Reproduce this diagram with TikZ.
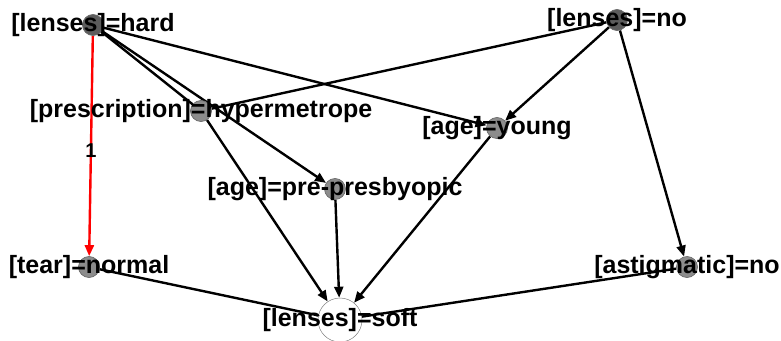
\documentclass[tikz,border=0pt]{standalone}
\usepackage{fontspec}
\setmainfont{Liberation Sans}
\usetikzlibrary{arrows.meta}
\pgfdeclarelayer{bg}
\pgfsetlayers{bg,main}
\definecolor{vlight}{HTML}{8C8C8C}
\definecolor{vdark}{HTML}{5C5C5C}
\definecolor{vline}{HTML}{6A6A6A}
\definecolor{redge}{HTML}{FF0000}
\tikzset{
  vtx/.style={circle, draw=vline, line width=0.7pt, fill=vlight, minimum size=21pt, inner sep=0pt},
  vtxdark/.style={vtx, fill=vdark},
  vtxsoft/.style={circle, draw=gray, line width=0.5pt, fill=white, minimum size=44pt, inner sep=0pt},
  lbl/.style={font=\bfseries\fontsize{25}{25}\selectfont, inner sep=0pt, text=black},
  link/.style={line width=2.4pt, draw=black},
  edge/.style={link, -{Triangle[length=11pt,width=9pt]}},
  redline/.style={edge, draw=redge, fill=redge},
  elbl/.style={font=\bfseries\fontsize{20}{20}\selectfont, inner sep=0pt, text=black}
}
\begin{document}
\begin{tikzpicture}[x=1pt,y=-1pt]
\useasboundingbox (0,0) rectangle (781,340);
% vertices
\node[vtxdark] (hard) at (93,25) {};
\node[vtxdark] (no) at (617,20) {};
\node[vtx] (presc) at (201,111) {};
\node[vtx] (young) at (497,128) {};
\node[vtx] (pre) at (335,189) {};
\node[vtx] (tear) at (89,267) {};
\node[vtx] (astig) at (687,267) {};
\node[vtxsoft] (soft) at (340,320) {};
% edges
\begin{pgfonlayer}{bg}
\draw[redline] (hard) -- node[elbl, pos=0.52] (one) {1} (tear);
\draw[link] (hard) -- (presc);
\draw[edge] (hard) -- (pre);
\draw[edge] (hard) -- (young);
\draw[link] (no) -- (presc);
\draw[edge] (no) -- (young);
\draw[edge] (no) -- (astig);
\draw[edge] (presc) -- (soft);
\draw[edge] (pre) -- (soft);
\draw[edge] (young) -- (soft);
\draw[link] (soft) -- (tear);
\draw[link] (soft) -- (astig);
\end{pgfonlayer}
% labels
\node[lbl] (hardL) at (hard) {[lenses]=hard};
\node[lbl] (noL) at (no) {[lenses]=no};
\node[lbl] (prescL) at (presc) {[prescription]=hypermetrope};
\node[lbl] (youngL) at (young) {[age]=young};
\node[lbl] (preL) at (pre) {[age]=pre-presbyopic};
\node[lbl] (tearL) at (tear) {[tear]=normal};
\node[lbl] (astigL) at (astig) {[astigmatic]=no};
\node[lbl] (softL) at (soft) {[lenses]=soft};
\end{tikzpicture}
\end{document}
